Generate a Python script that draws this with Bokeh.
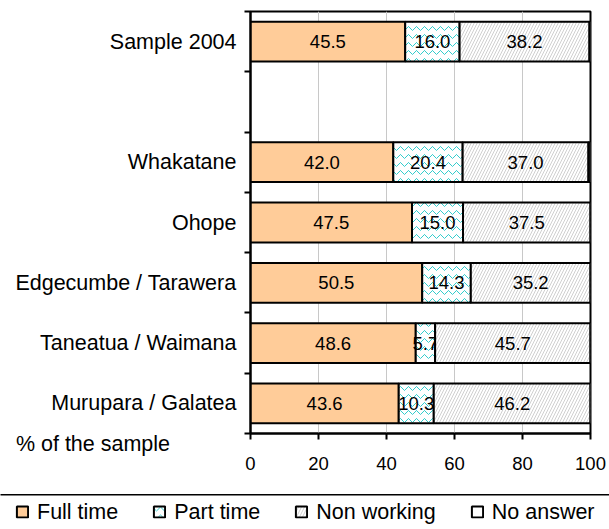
from bokeh.plotting import figure
from bokeh.models import (Range1d, LinearAxis, FixedTicker, ColumnDataSource,
                          Label, Legend, LegendItem)
from bokeh.layouts import column
from bokeh.embed import file_html
from bokeh.resources import INLINE
from bokeh.core.properties import value

# ---------------- data ----------------
categories = ["Murupara / Galatea", "Taneatua / Waimana", "Edgecumbe / Tarawera",
              "Ohope", "Whakatane", "", "Sample 2004"]
rows = ["Murupara / Galatea", "Taneatua / Waimana", "Edgecumbe / Tarawera",
        "Ohope", "Whakatane", "Sample 2004"]
full_time = [43.6, 48.6, 50.5, 47.5, 42.0, 45.5]
part_time = [10.3, 5.7, 14.3, 15.0, 20.4, 16.0]
non_working = [46.2, 45.7, 35.2, 37.5, 37.0, 38.2]
no_answer = [0.0, 0.0, 0.0, 0.0, 0.6, 0.3]
series_names = ["Full time", "Part time", "Non working", "No answer"]
x_ticks = [0, 20, 40, 60, 80, 100]
axis_caption = "% of the sample"

FONT = "Liberation Sans"
series = [full_time, part_time, non_working, no_answer]
styles = [
    dict(fill_color="#FFCC99"),
    dict(fill_color="white", hatch_pattern="horizontal_wave", hatch_color="#33CCCC",
         hatch_scale=8, hatch_weight=1),
    dict(fill_color="white", hatch_pattern="right_diagonal_line", hatch_color="#D0D0D0",
         hatch_scale=6, hatch_weight=1),
    dict(fill_color="white"),
]

# category slot centre for each row (index in the category list + 0.5)
ypos = [categories.index(r) + 0.5 for r in rows]

p = figure(width=609, height=497, y_range=Range1d(0, len(categories)),
           x_range=Range1d(0, 100), y_axis_location=None,
           output_backend="svg", toolbar_location=None,
           min_border_left=250, min_border_right=19, min_border_top=11, min_border_bottom=64)
p.frame_align = False
p.outline_line_color = "black"
p.outline_line_width = 2

# stacked bars
lefts = [0.0] * len(rows)
for vals, st, name in zip(series, styles, series_names):
    rights = [l + v for l, v in zip(lefts, vals)]
    src = ColumnDataSource(dict(y=ypos, left=lefts, right=rights, val=vals))
    p.hbar(y="y", left="left", right="right", height=0.66, source=src,
           line_color="black", line_width=2, **st)
    if name != "No answer":
        mids = [(l + r) / 2 for l, r in zip(lefts, rights)]
        tsrc = ColumnDataSource(dict(y=ypos, x=mids, txt=["%.1f" % v for v in vals]))
        p.text(x="x", y="y", text="txt", source=tsrc, text_align="center",
               text_baseline="middle", text_font=value(FONT), text_font_size="18.5px",
               text_color="black")
    lefts = rights

# y axis with labels at centres and ticks at boundaries
yax = LinearAxis(ticker=FixedTicker(ticks=[i + 0.5 for i in range(len(categories))],
                                    minor_ticks=list(range(len(categories) + 1))))
yax.major_label_overrides = {i + 0.5: c for i, c in enumerate(categories)}
yax.major_tick_line_color = None
yax.major_tick_out = 6
yax.major_tick_in = 0
yax.minor_tick_line_color = "black"
yax.minor_tick_line_width = 2
yax.minor_tick_out = 6
yax.minor_tick_in = 0
yax.axis_line_color = "black"
yax.axis_line_width = 2
yax.major_label_standoff = 8
yax.major_label_text_font = FONT
yax.major_label_text_font_size = "21.5px"
yax.major_label_text_color = "black"
p.add_layout(yax, "left")

xax = p.xaxis[0]
xax.ticker = FixedTicker(ticks=x_ticks)
xax.axis_line_width = 2
xax.axis_line_color = "black"
xax.major_tick_line_color = "black"
xax.major_tick_line_width = 2
xax.major_tick_out = 6
xax.major_tick_in = 0
xax.minor_tick_line_color = None
xax.major_label_standoff = 17
xax.major_label_text_font = FONT
xax.major_label_text_font_size = "18.5px"
xax.major_label_text_color = "black"

p.ygrid.visible = False
p.xgrid.ticker = FixedTicker(ticks=x_ticks)
p.xgrid.grid_line_color = "#C8C8C8"
p.xgrid.grid_line_width = 1

p.add_layout(Label(x=-69, y=-0.166, text=axis_caption,
                   text_font=FONT, text_font_size="21.5px", text_color="black",
                   text_baseline="middle", text_align="left"), "below")

# ---------------- legend strip ----------------
p2 = figure(width=609, height=35, x_range=Range1d(0, 1), y_range=Range1d(0, 1),
            x_axis_location=None, y_axis_location=None, toolbar_location=None,
            output_backend="svg", min_border=0, min_border_left=0, min_border_right=0,
            min_border_top=0, min_border_bottom=0)
p2.frame_align = False
p2.margin = (-3, 0, 0, 0)
p2.outline_line_color = None
p2.grid.visible = False
sep = LinearAxis(ticker=FixedTicker(ticks=[]), axis_line_width=2, axis_line_color="black",
                 major_tick_line_color=None, minor_tick_line_color=None,
                 major_label_text_font_size="0px")
p2.add_layout(sep, "above")

items = []
for st, name in zip(styles, series_names):
    # legend swatch renderer: a zero-width bar placed outside the visible strip
    r = p2.hbar(y=[-5], left=[0], right=[0], height=1, line_color="black", line_width=2, **st)
    items.append(LegendItem(label=name, renderers=[r]))
leg = Legend(items=items, orientation="horizontal", location="center_left",
             glyph_width=14, glyph_height=14, label_standoff=8, spacing=34,
             padding=0, margin=15, border_line_color=None, background_fill_alpha=0,
             label_text_font=FONT, label_text_font_size="21.5px", label_height=14,
             label_text_color="black")
p2.add_layout(leg, "center")

layout = column(p, p2, spacing=0)
open("out.html", "w").write(file_html(layout, INLINE))
